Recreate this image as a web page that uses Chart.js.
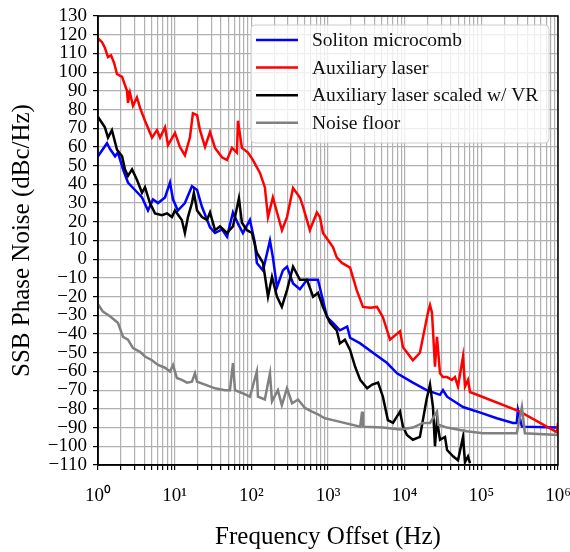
<!DOCTYPE html>
<html>
<head>
<meta charset="utf-8">
<script src="https://cdn.jsdelivr.net/npm/chart.js@4.4.1/dist/chart.umd.min.js"></script>
<style>
  html, body { margin: 0; padding: 0; background: #fff; }
</style>
</head>
<body>
<canvas id="grafico" width="570" height="552"></canvas>
<script>
// Data (frequency in Hz, noise in dBc/Hz)
const solitonFreq = [
  1, 1.31, 1.43, 1.67, 1.82, 2.12, 2.46, 3.04, 3.75, 4.49,
  5.22, 6.06, 7.48, 8.69, 9.51, 11.0, 13.6, 16.8, 19.6, 22.7,
  28.9, 33.6, 41.4, 48.1, 57.6, 66.9, 77.6, 95.8, 111, 118,
  142, 175, 191, 216, 258, 292, 350, 430, 532, 639,
  740, 836, 971, 1160, 1430, 1780, 1940, 2630, 3860, 5900,
  7950, 12800, 19300, 28900, 31600, 35700, 57700, 97000, 159000, 259000,
  290000, 300000, 338000, 1000000
];
const solitonDb = [
  55, 62, 59, 55, 57, 48, 41, 37, 33, 26,
  32, 30, 33, 41, 32, 26, 30, 39, 37, 28,
  17, 14, 16, 12, 25, 19, 14, 21, 9, -2,
  -6, 10, 1, -15, -6, -4, -13, -16, -11, -11,
  -11, -20, -31, -34, -38, -36, -42, -45, -50, -55.5,
  -61, -66, -70, -72.5, -70, -73.5, -79, -82, -85, -87.5,
  -87.5, -80.5, -89.5, -90
];

const auxFreq = [
  1, 1.13, 1.23, 1.35, 1.48, 1.62, 1.77, 2.06, 2.39, 2.46,
  2.61, 2.86, 3.22, 3.53, 4.1, 5.06, 5.88, 6.44, 7.48, 8.19,
  10.1, 11.7, 13.6, 15.8, 17.3, 19.6, 21.4, 24.9, 28.9, 33.6,
  41.4, 48.1, 55.9, 64.9, 66.9, 75.4, 90.5, 105, 130, 150,
  165, 191, 251, 292, 350, 430, 473, 580, 716, 786,
  860, 1160, 1300, 1520, 1940, 2370, 2860, 3520, 4360, 5200,
  6440, 8690, 9510, 12800, 15800, 20140, 21400, 22700, 23400, 24850,
  26400, 28900, 31600, 35700, 41400, 45300, 49600, 57700, 61200, 67000,
  71100, 319000, 970000, 1000000
];
const auxDb = [
  118, 116, 113, 108, 109, 105, 99, 97.5, 90, 83.5,
  89, 82, 86.5, 81, 74, 65, 69, 65, 70.5, 61,
  67.5, 60, 55.5, 65, 78, 77, 69, 60, 68, 59.5,
  54.5, 53, 59.5, 57, 74, 59.5, 57, 53, 46, 38.5,
  22.5, 33, 15.5, 22.5, 38, 33, 28, 15.5, 25, 22.5,
  14, 6.5, 1, -2, -4.5, -16.5, -25.5, -26, -25.5, -31,
  -43, -38.5, -47, -54, -50, -28.5, -24.5, -28.5, -38, -57.5,
  -41.5, -61, -63, -63, -64.5, -63, -68, -52, -68, -64.5,
  -71, -81.5, -92.5, -87.5
];

const scaledFreq = [
  1, 1.23, 1.35, 1.52, 1.77, 2.06, 2.25, 2.46, 2.78, 3.22,
  3.75, 4.1, 4.76, 5.54, 6.83, 7.94, 9.22, 10.1, 12.4, 13.6,
  14.9, 16.8, 17.8, 19.6, 22.7, 26.4, 28.9, 33.6, 39, 48.1,
  57.6, 68.9, 75.4, 87.8, 102, 118, 142, 165, 186, 216,
  250, 292, 350, 430, 532, 639, 740, 860, 1060, 1300,
  1430, 1660, 1940, 2260, 2630, 3240, 3770, 4500, 5200, 6040,
  7040, 8690, 9510, 10700, 12800, 15800, 19300, 21400, 23400, 24850,
  26400, 28900, 33600, 35700, 43100, 49600, 57700, 61200, 67000, 71100
];
const scaledDb = [
  76, 70.5, 65, 69, 58.5, 55, 48, 44.5, 48, 42.5,
  35.5, 38.5, 30, 24.5, 23.5, 24.5, 22.5, 26, 21, 14,
  22.5, 30, 35.5, 26, 22.5, 21, 25, 15.5, 17.5, 14,
  17.5, 32.5, 19.5, 15.5, 14, 3.5, -2, -20, -9.5, -20,
  -25.5, -16.5, -4, -11, -11, -20, -18, -25.5, -34, -38,
  -45, -43, -48.5, -57.5, -64.5, -69, -67, -66, -73.5, -86,
  -87.5, -81.5, -89.5, -94, -96.5, -95, -75, -67, -79, -100,
  -86, -96.5, -95, -102, -105.5, -107.5, -95, -108.5, -105.5, -109
];

const floorFreq = [
  1, 1.16, 1.43, 1.82, 2.12, 2.46, 2.86, 3.53, 4.1, 5.06,
  6.06, 7.48, 8.69, 9.51, 10.7, 12.4, 14.5, 16.8, 18.4, 19.6,
  24.9, 33.6, 45.2, 52.6, 57.6, 61.2, 75.4, 95.8, 118, 122,
  150, 175, 186, 222, 250, 292, 340, 407, 500, 619,
  740, 912, 1160, 2630, 2780, 2860, 5200, 8690, 12800, 17330,
  21400, 26400, 27500, 35700, 64400, 105000, 290000, 338000, 370000, 1000000
];
const floorDb = [
  -24, -28, -30.5, -34, -41.5, -43, -47.5, -49.5, -52, -54,
  -56.5, -58, -60, -56.5, -63.5, -64.5, -66, -65.5, -61, -65.5,
  -67, -69, -70, -70, -55.5, -70, -71.5, -73.5, -60, -73.5,
  -75, -61, -76, -70, -78, -69, -77, -75, -79.5, -81.5,
  -83, -85, -86, -89.5, -81.5, -89.5, -90, -91, -90, -87.5,
  -87.5, -81.5, -88.5, -90, -92, -93, -93, -79, -93, -94
];

const seriesNames = ['Soliton microcomb', 'Auxiliary laser', 'Auxiliary laser scaled w/ VR', 'Noise floor'];
const seriesColors = ['#0000ff', '#ff0000', '#000000', '#808080'];

const superscripts = ['\u2070', '\u00b9', '\u00b2', '\u00b3', '\u2074', '\u2075', '\u2076'];
const serif = "'Liberation Serif', 'Times New Roman', serif";

function pontos(freq, db) {
  return freq.map((f, i) => ({ x: f, y: db[i] }));
}

// frame on all four sides + legend box inside the plot
const molduraPlugin = {
  id: 'moldura',
  afterDatasetsDraw(chart) {
    const ctx = chart.ctx;
    const a = chart.chartArea;
    ctx.save();
    ctx.strokeStyle = '#000';
    ctx.lineWidth = 1.5;
    ctx.strokeRect(a.left, a.top, a.right - a.left, a.bottom - a.top);

    // legend
    const bx = 251, by = 25, bw = 298, bh = 118;
    ctx.beginPath();
    ctx.roundRect(bx, by, bw, bh, 4);
    ctx.fillStyle = 'rgba(255,255,255,0.8)';
    ctx.fill();
    ctx.strokeStyle = '#cccccc';
    ctx.lineWidth = 1;
    ctx.stroke();

    ctx.font = '19.5px ' + serif;
    ctx.textBaseline = 'middle';
    ctx.textAlign = 'left';
    seriesNames.forEach((nome, i) => {
      const y = 40 + i * 27.6;
      ctx.beginPath();
      ctx.moveTo(256, y);
      ctx.lineTo(298, y);
      ctx.strokeStyle = seriesColors[i];
      ctx.lineWidth = 2.5;
      ctx.stroke();
      ctx.fillStyle = '#111';
      ctx.fillText(nome, 312, y + 1);
    });
    ctx.restore();
  }
};

const ctx = document.getElementById('grafico').getContext('2d');

new Chart(ctx, {
  type: 'line',
  data: {
    datasets: [
      { label: seriesNames[0], data: pontos(solitonFreq, solitonDb), borderColor: seriesColors[0], order: 4 },
      { label: seriesNames[1], data: pontos(auxFreq, auxDb), borderColor: seriesColors[1], order: 3 },
      { label: seriesNames[2], data: pontos(scaledFreq, scaledDb), borderColor: seriesColors[2], order: 2 },
      { label: seriesNames[3], data: pontos(floorFreq, floorDb), borderColor: seriesColors[3], order: 1 }
    ]
  },
  options: {
    responsive: false,
    devicePixelRatio: 1,
    animation: false,
    layout: { padding: { left: 0, top: 16, right: 12, bottom: 0 } },
    elements: {
      line: { borderWidth: 2.5, tension: 0, fill: false },
      point: { radius: 0 }
    },
    plugins: {
      legend: { display: false },
      tooltip: { enabled: false }
    },
    scales: {
      x: {
        type: 'logarithmic',
        min: 1,
        max: 1e6,
        afterFit: (s) => { s.height = 87; s.paddingLeft = 0; s.paddingRight = 0; },
        afterBuildTicks: (s) => {
          const t = [];
          for (let e = 0; e <= 6; e++) {
            for (let m = 1; m <= 9; m++) {
              const v = m * Math.pow(10, e);
              if (v <= 1e6) t.push({ value: v, major: m === 1 });
            }
          }
          s.ticks = t;
        },
        ticks: {
          autoSkip: false,
          maxRotation: 0,
          padding: 15,
          color: '#000',
          font: { family: serif, size: 19 },
          callback: (value, index, ticks) => {
            if (!ticks[index].major) return '';
            return '10' + superscripts[Math.round(Math.log10(value))];
          }
        },
        grid: { color: '#b0b0b0', lineWidth: 1.2, tickColor: '#000', tickLength: 5, tickWidth: 1.2 },
        border: { display: true, color: '#000', width: 1.5 },
        title: {
          display: true,
          text: 'Frequency Offset (Hz)',
          color: '#000',
          font: { family: serif, size: 25 },
          padding: { top: 0, bottom: 0 }
        }
      },
      y: {
        min: -110,
        max: 130,
        afterFit: (s) => { s.width = 98; s.paddingTop = 0; s.paddingBottom = 0; },
        ticks: {
          stepSize: 10,
          autoSkip: false,
          padding: 6,
          color: '#000',
          font: { family: serif, size: 19 },
          callback: (v) => String(v).replace('-', '\u2212')
        },
        grid: { color: '#b0b0b0', lineWidth: 1.2, tickColor: '#000', tickLength: 5, tickWidth: 1.2 },
        border: { display: true, color: '#000', width: 1.5 },
        title: {
          display: true,
          text: 'SSB Phase Noise (dBc/Hz)',
          color: '#000',
          font: { family: serif, size: 25 },
          padding: { top: 7, bottom: 0 }
        }
      }
    }
  },
  plugins: [molduraPlugin]
});
</script>
</body>
</html>
